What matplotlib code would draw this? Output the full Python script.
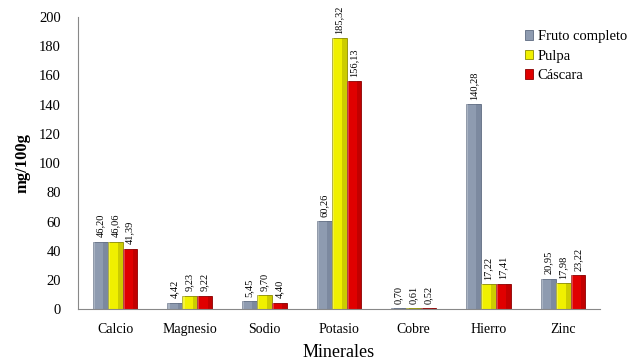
import numpy as np
import matplotlib.pyplot as plt

plt.rcParams['font.family'] = ['Liberation Serif', 'DejaVu Serif']

minerales = ["Calcio", "Magnesio", "Sodio", "Potasio", "Cobre", "Hierro", "Zinc"]
fruto = [46.20, 4.42, 5.45, 60.26, 0.70, 140.28, 20.95]
pulpa = [46.06, 9.23, 9.70, 185.32, 0.61, 17.22, 17.98]
cascara = [41.39, 9.22, 4.40, 156.13, 0.52, 17.41, 23.22]

series = [("Fruto completo", fruto, "#8e9bb0", "#5d6a80"),
          ("Pulpa", pulpa, "#f0f000", "#8a8a00"),
          ("Cáscara", cascara, "#e00000", "#8a0000")]

fig = plt.figure(figsize=(6.32, 3.62), dpi=100)
ax = fig.add_axes([0.123, 0.146, 0.827, 0.807])

x = np.arange(len(minerales))
w = 0.2
handles = []
for i, (name, vals, col, dark) in enumerate(series):
    pos = x + (i - 1) * w
    b = ax.bar(pos, vals, width=w, color=col, edgecolor=dark, linewidth=0.6, label=name)
    # darker shading on the right side for the bevel look
    ax.bar(pos + w * 0.2, vals, width=w * 0.3, align='edge', color=dark, alpha=0.35, linewidth=0)
    ax.bar(pos - w * 0.5, vals, width=w * 0.15, align='edge', color='white', alpha=0.25, linewidth=0)
    handles.append(b)
    for p, v in zip(pos, vals):
        ax.text(p, v + 3, f"{v:.2f}".replace(".", ","), rotation=90, ha='center', va='bottom', fontsize=7.5)

ax.set_ylim(0, 200)
ax.set_xlim(-0.5, len(minerales) - 0.5)
ax.set_yticks(range(0, 201, 20))
ax.set_xticks(x)
ax.set_xticklabels(minerales, fontsize=10)
ax.tick_params(axis='y', labelsize=10.5, length=0, pad=12)
ax.tick_params(axis='x', length=0, pad=10)
for s in ["top", "right"]:
    ax.spines[s].set_visible(False)
ax.spines["left"].set_color("#888888")
ax.spines["bottom"].set_color("#888888")

ax.set_ylabel("mg/100g", fontsize=12, fontweight='bold', labelpad=6)
ax.set_xlabel("Minerales", fontsize=13, labelpad=6)

ax.legend(handles=handles, loc='upper left', bbox_to_anchor=(0.83, 1.0), frameon=False,
          fontsize=10.5, handlelength=0.6, handleheight=0.6, handletextpad=0.3, labelspacing=0.45)

fig.savefig("out.png", dpi=100)
